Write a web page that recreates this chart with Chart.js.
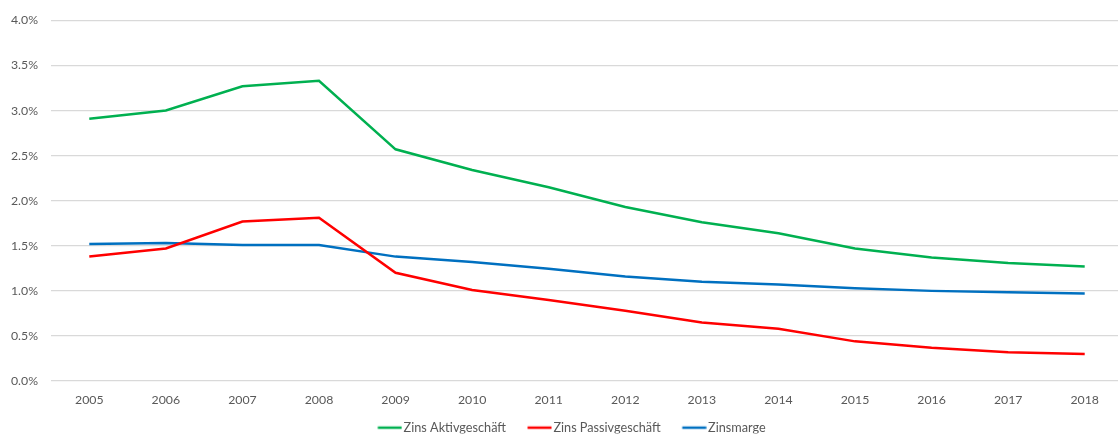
<!DOCTYPE html>
<html lang="de">
<head>
<meta charset="utf-8">
<title>Zinsentwicklung 2005–2018</title>
<script src="https://cdn.jsdelivr.net/npm/chart.js@4/dist/chart.umd.min.js"></script>
<style>
  html, body { margin: 0; padding: 0; background: #ffffff; overflow: hidden; }
  #wrap { width: 1123px; height: 435px; }
</style>
</head>
<body>
<div id="wrap"><canvas id="zinsChart" width="1123" height="435"></canvas></div>
<script>
// Jahre (Kategorien)
const years = ['2005', '2006', '2007', '2008', '2009', '2010', '2011', '2012', '2013', '2014', '2015', '2016', '2017', '2018'];

// Zinssätze in Prozent
const zinsAktiv = [2.91, 3.00, 3.27, 3.33, 2.57, 2.34, 2.15, 1.93, 1.76, 1.64, 1.47, 1.37, 1.31, 1.27];
const zinsPassiv = [1.38, 1.47, 1.77, 1.81, 1.20, 1.01, 0.90, 0.78, 0.65, 0.58, 0.44, 0.37, 0.32, 0.30];
const zinsmarge = [1.52, 1.53, 1.51, 1.51, 1.38, 1.32, 1.245, 1.16, 1.10, 1.07, 1.03, 1.00, 0.985, 0.97];

// Beschriftungen der Datenreihen
const seriesNames = ['Zins Aktivgeschäft', 'Zins Passivgeschäft', 'Zinsmarge'];

// Skala der y-Achse
const yMin = 0;
const yMax = 4;
const yStep = 0.5;

const textColor = '#595959';
const gridColor = '#d9d9d9';
const fontFamily = 'Lato, "Open Sans", sans-serif';

function lineDataset(label, data, color) {
  return {
    label: label,
    data: data,
    borderColor: color,
    backgroundColor: color,
    borderWidth: 2.5,
    pointRadius: 0,
    pointHoverRadius: 0,
    tension: 0,
    fill: false
  };
}

// Legendensymbol: kurze Linie, die fast bis an den Text reicht
const markerBox = 20;
function legendMarker(color) {
  const c = document.createElement('canvas');
  c.width = 30;
  c.height = 6;
  const ctx = c.getContext('2d');
  ctx.strokeStyle = color;
  ctx.lineWidth = 2.5;
  ctx.beginPath();
  ctx.moveTo(5.5, 3);
  ctx.lineTo(29.5, 3);
  ctx.stroke();
  return c;
}

// Legende: weiter Abstand zwischen den Einträgen, aber kompakte Höhe;
// zudem leicht nach rechts/oben versetzt
const legendTweak = {
  id: 'legendTweak',
  afterInit(chart) {
    const legend = chart.legend;
    if (!legend) return;
    const origFit = legend.fit.bind(legend);
    legend.fit = function () {
      origFit();
      this.height -= 10.5;
    };
  },
  afterLayout(chart) {
    const legend = chart.legend;
    if (!legend) return;
    legend.left += 10;
    legend.right += 10;
    legend.top -= 10.5;
    legend.bottom -= 10.5;
  }
};

new Chart(document.getElementById('zinsChart'), {
  type: 'line',
  data: {
    labels: years,
    datasets: [
      lineDataset(seriesNames[0], zinsAktiv, '#00b050'),
      lineDataset(seriesNames[1], zinsPassiv, '#ff0000'),
      lineDataset(seriesNames[2], zinsmarge, '#0070c0')
    ]
  },
  plugins: [legendTweak],
  options: {
    responsive: false,
    animation: false,
    layout: { padding: { left: 0, right: 0, top: 13, bottom: -9 } },
    plugins: {
      tooltip: { enabled: false },
      legend: {
        position: 'bottom',
        labels: {
          color: textColor,
          font: { family: fontFamily, size: 12.7 },
          usePointStyle: true,
          pointStyleWidth: markerBox,
          padding: 21,
          generateLabels(chart) {
            return chart.data.datasets.map((ds, i) => ({
              text: ds.label,
              fillStyle: ds.borderColor,
              strokeStyle: ds.borderColor,
              lineWidth: 0,
              pointStyle: legendMarker(ds.borderColor),
              hidden: false,
              datasetIndex: i,
              fontColor: textColor
            }));
          }
        }
      }
    },
    scales: {
      x: {
        offset: true,
        grid: { display: false },
        border: { display: false },
        ticks: {
          color: textColor,
          font: { family: fontFamily, size: 12.3 },
          padding: 3.5,
          maxRotation: 0
        }
      },
      y: {
        min: yMin,
        max: yMax,
        afterFit(axis) { axis.width = 51; },
        grid: {
          color: gridColor,
          lineWidth: 1.3,
          drawTicks: false
        },
        border: { display: false },
        ticks: {
          stepSize: yStep,
          color: textColor,
          font: { family: fontFamily, size: 12.3 },
          padding: 13,
          callback: (v) => v.toFixed(1) + '%'
        }
      }
    }
  }
});
</script>
</body>
</html>
